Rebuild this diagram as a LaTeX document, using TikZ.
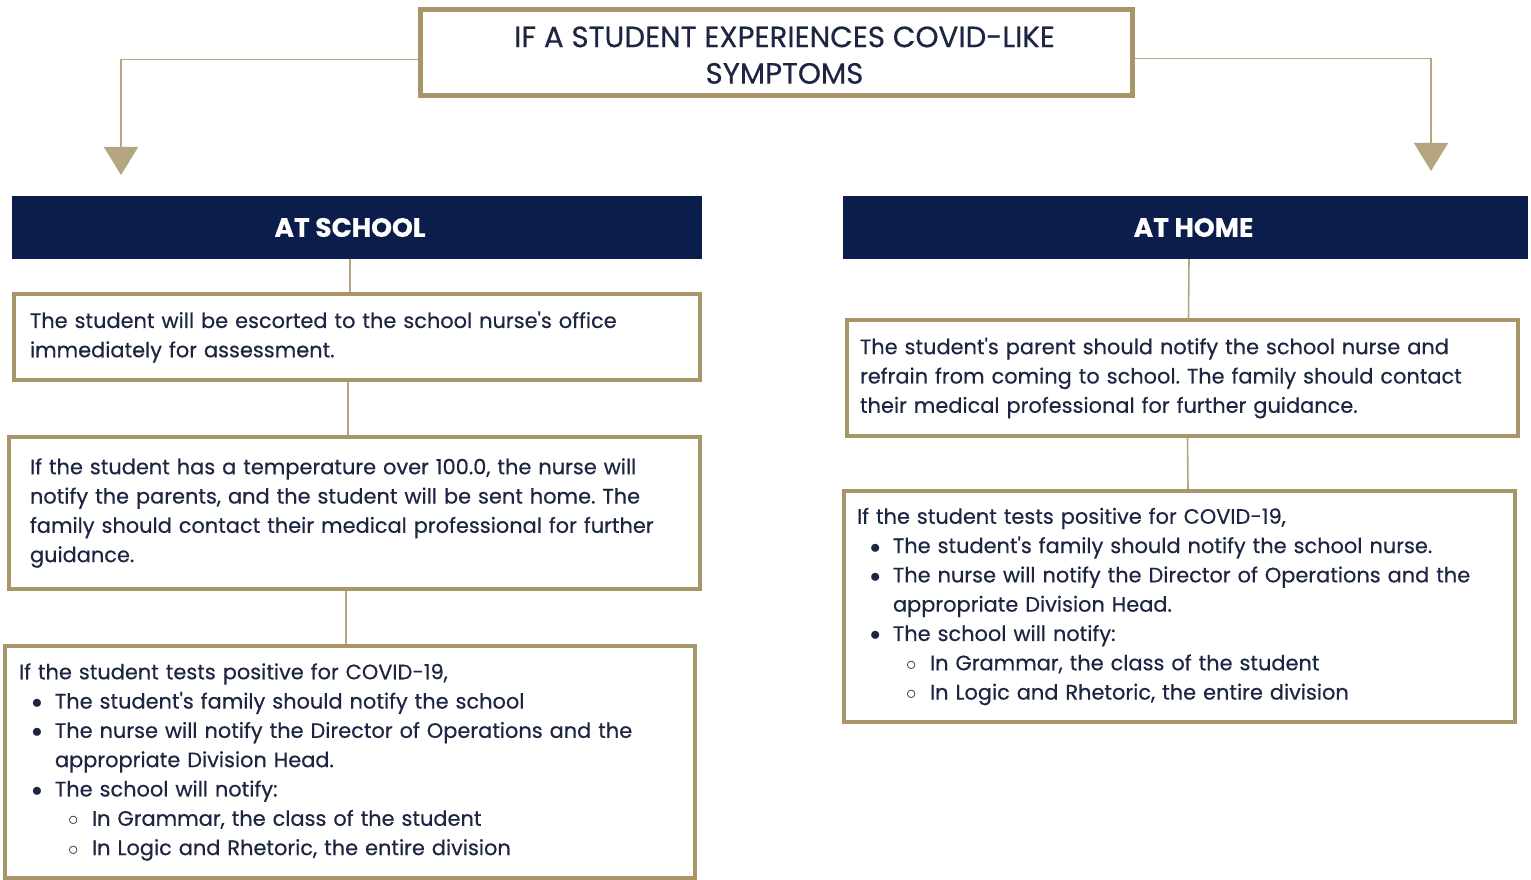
\documentclass[tikz,border=0pt]{standalone}
\usepackage{fontspec}
\setmainfont{Poppins}[FakeBold=0.4]
\usetikzlibrary{arrows.meta}
\definecolor{gold}{HTML}{A8956A}
\definecolor{navy}{HTML}{0B1D4B}
\definecolor{ink}{HTML}{1C2541}
\newcommand\bodyfont{\fontsize{20.9}{29.3}\selectfont\frenchspacing}
\newcommand\headfont{\fontsize{26.5}{30}\selectfont\bfseries}
\newcommand\titlefont{\fontsize{29.3}{36.5}\selectfont}
\newcommand\q{\textquotesingle}
\newcommand\bul{\hspace*{13pt}\makebox[23pt][l]{$\bullet$}}
\newcommand\subbul{\hspace*{49pt}\makebox[24pt][l]{$\circ$}}
\newcommand\cont{\hspace*{36pt}}
\tikzset{
  box/.style={draw=gold, line width=4pt, fill=white, inner sep=0pt,
    align=left, text=ink, font=\bodyfont},
  header/.style={fill=navy, text=white, font=\headfont, inner sep=0pt},
  link/.style={draw=gold!85, line width=1.6pt},
  drop/.style={link, -{Triangle[width=34pt,length=28pt]}}
}

\begin{document}
\begin{tikzpicture}[x=1pt, y=-1pt]
  \useasboundingbox[fill=white] (0,0) rectangle (1531,880);

  % Title
  \node[box, line width=5pt, align=center, font=\titlefont, minimum width=712,
    minimum height=86] (title) at (776.5,52.5)
    {\rule{0pt}{26pt}\hspace*{16pt}IF A STUDENT EXPERIENCES COVID-LIKE\\\hspace*{16pt}SYMPTOMS};

  % Headers
  \node[header, minimum width=690, minimum height=63] (hschool) at (357,227.5) {AT SCHOOL\hspace*{14pt}};
  \node[header, minimum width=685, minimum height=63] (hhome) at (1185.5,227.5) {\hspace*{16pt}AT HOME};

  % At school
  \node[box, text width=654, minimum width=686, minimum height=86] (sbox1) at (357,337)
    {The student will be escorted to the school nurse\q s office\\
     immediately for assessment.};
  \node[box, text width=649, minimum width=691, minimum height=152] (sbox2) at (354.5,513)
    {If the student has a temperature over 100.0, the nurse will\\
     notify the parents, and the student will be sent home. The\\
     family should contact their medical professional for further\\
     guidance.};
  \node[box, text width=662, minimum width=690, minimum height=232] (sbox3) at (350,762)
    {If the student tests positive for COVID-19,\\
     \bul The student\q s family should notify the school\\
     \bul The nurse will notify the Director of Operations and the\\
     \cont appropriate Division Head.\\
     \bul The school will notify:\\
     \subbul In Grammar, the class of the student\\
     \subbul In Logic and Rhetoric, the entire division};

  % At home
  \node[box, text width=645, minimum width=671, minimum height=116] (hbox1) at (1182.5,378)
    {The student\q s parent should notify the school nurse and\\
     refrain from coming to school. The family should contact\\
     their medical professional for further guidance.};
  \node[box, text width=645, minimum width=671, minimum height=231] (hbox2) at (1179.5,606.5)
    {If the student tests positive for COVID-19,\\
     \bul The student\q s family should notify the school nurse.\\
     \bul The nurse will notify the Director of Operations and the\\
     \cont appropriate Division Head.\\
     \bul The school will notify:\\
     \subbul In Grammar, the class of the student\\
     \subbul In Logic and Rhetoric, the entire division};

  % Connectors
  \coordinate (ltip) at (121,175);
  \coordinate (rtip) at (1431,171);
  \draw[drop] ([yshift=-7pt]title.west) -| (ltip);
  \draw[drop] ([yshift=-6pt]title.east) -| (rtip);
  \draw[link] (sbox3.north) ++(-4,0) -- ++(0,-53);
  \draw[link] (sbox1.north) ++(-7,0) -- (hschool.south -| 350,0);
  \draw[link] (sbox1.south) ++(-9,0) -- (sbox2.north -| 348,0);
  \draw[link] (hbox1.north) ++(6,0) -- (hhome.south -| 1189,0);
  \draw[link] (hbox1.south) ++(5,0) -- (hbox2.north -| 1188,0);
\end{tikzpicture}
\end{document}
